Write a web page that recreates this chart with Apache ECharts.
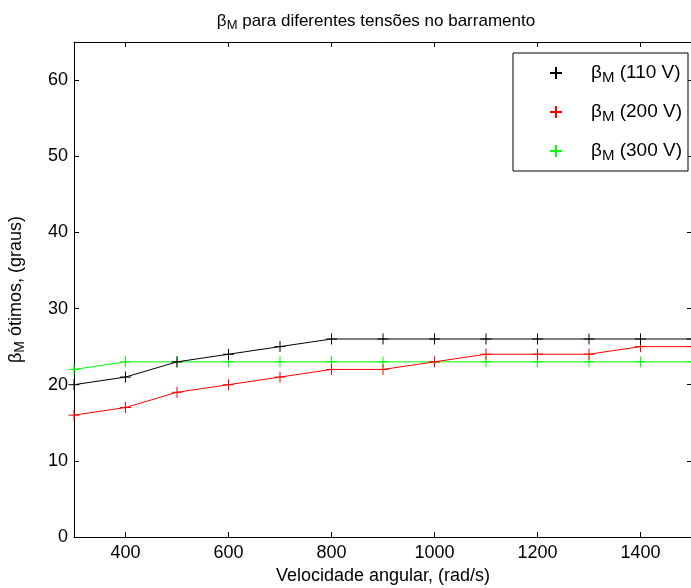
<!DOCTYPE html>
<html>
<head>
<meta charset="utf-8">
<script src="https://cdn.jsdelivr.net/npm/echarts@6/dist/echarts.min.js"></script>
<style>html,body{margin:0;padding:0;background:#fff;}#c{width:691px;height:588px;}</style>
</head>
<body>
<div id="c"></div>
<script>
var speeds = [300, 400, 500, 600, 700, 800, 900, 1000, 1100, 1200, 1300, 1400, 1500];
var beta110 = [20, 21, 23, 24, 25, 26, 26, 26, 26, 26, 26, 26, 26];
var beta200 = [16, 17, 19, 20, 21, 22, 22, 23, 24, 24, 24, 25, 25];
var beta300 = [22, 23, 23, 23, 23, 23, 23, 23, 23, 23, 23, 23, 23];
var seriesNames = ['110 V', '200 V', '300 V'];
var seriesColors = ['#000000', '#ff0000', '#00ff00'];
var xTicks = [400, 600, 800, 1000, 1200, 1400];
var yTicks = [0, 10, 20, 30, 40, 50, 60];

var FONT = 'Liberation Sans, Arial, sans-serif';
var plusPath = 'path://M0,5 L10,5 M5,0 L5,10';
function pairs(vals) { return speeds.map(function (s, i) { return [s, vals[i]]; }); }
var allVals = [beta110, beta200, beta300];

var chart = echarts.init(document.getElementById('c'), null, {renderer: 'canvas'});
function mkRich(fs, sfs, drop) {
  return {
    b: {fontFamily: FONT, fontSize: fs, color: '#000', lineHeight: fs + 6},
    s: {fontFamily: FONT, fontSize: sfs, color: '#000', lineHeight: fs + 6, padding: [drop, 0, 0, 0]},
    t: {fontFamily: FONT, fontSize: fs, color: '#000', lineHeight: fs + 6}
  };
}
function axisLine() { return {show: true, onZero: false, lineStyle: {color: '#000', width: 1}}; }
function ticks(custom) {
  return {show: true, inside: true, length: 5, customValues: custom, lineStyle: {color: '#000', width: 1}};
}
var option = {
  backgroundColor: '#fff',
  animation: false,
  title: {
    text: '{b|β}{s|M}{t| para diferentes tensões no barramento}',
    left: 371, textAlign: 'center', top: 5,
    textStyle: {fontFamily: FONT, fontSize: 17, fontWeight: 'normal', color: '#000',
      rich: mkRich(17, 13, 8)}
  },
  legend: {
    orient: 'vertical',
    right: 3, top: 53,
    padding: [8, 6, 8, 36],
    itemGap: 15,
    itemWidth: 12, itemHeight: 12,
    backgroundColor: '#fff',
    borderColor: '#000', borderWidth: 1,
    data: seriesNames.map(function (n) { return {name: n, icon: plusPath}; }),
    formatter: function (n) { return '{b|β}{s|M}{t| (' + n + ')}'; },
    textStyle: {fontFamily: FONT, fontSize: 19, color: '#000', padding: [0, 0, 0, 24], rich: mkRich(19, 15, 9)}
  },
  grid: {left: 74, top: 42, width: 618, height: 495, containLabel: false, outerBoundsMode: 'none'},
  xAxis: [{
    type: 'value', min: 300, max: 1500, position: 'bottom',
    name: 'Velocidade angular, (rad/s)', nameLocation: 'middle', nameGap: 30,
    nameTextStyle: {fontFamily: FONT, fontSize: 18, color: '#000'},
    axisLine: axisLine(),
    axisTick: ticks(xTicks),
    axisLabel: {fontFamily: FONT, fontSize: 18, color: '#000', margin: 7, customValues: xTicks,
      formatter: function (v) { return String(v); }},
    splitLine: {show: false}
  }, {
    type: 'value', min: 300, max: 1500, position: 'top',
    axisLine: axisLine(),
    axisTick: ticks(xTicks),
    axisLabel: {show: false, customValues: xTicks},
    splitLine: {show: false}
  }],
  yAxis: [{
    type: 'value', min: 0, max: 65, interval: 10, position: 'left',
    name: '{b|β}{s|M}{t| ótimos, (graus)}', nameLocation: 'middle', nameGap: 46, nameRotate: 90,
    nameTextStyle: {fontFamily: FONT, fontSize: 18, color: '#000', rich: mkRich(18, 14, 9)},
    axisLine: axisLine(),
    axisTick: ticks(yTicks),
    axisLabel: {fontFamily: FONT, fontSize: 18, color: '#000', margin: 6, customValues: yTicks,
      formatter: function (v) { return String(v); }},
    splitLine: {show: false}
  }, {
    type: 'value', min: 0, max: 65, interval: 10, position: 'right',
    axisLine: axisLine(),
    axisTick: ticks(yTicks),
    axisLabel: {show: false, customValues: yTicks},
    splitLine: {show: false}
  }],
  series: seriesNames.map(function (n, i) {
    return {
      name: n, type: 'line', xAxisIndex: 0, yAxisIndex: 0,
      data: pairs(allVals[i]),
      symbol: plusPath, symbolSize: 11, showSymbol: true,
      lineStyle: {color: seriesColors[i], width: 1},
      itemStyle: {color: seriesColors[i], borderColor: seriesColors[i], borderWidth: 1},
      z: 3 - i
    };
  })
};
chart.setOption(option);
</script>
</body>
</html>
